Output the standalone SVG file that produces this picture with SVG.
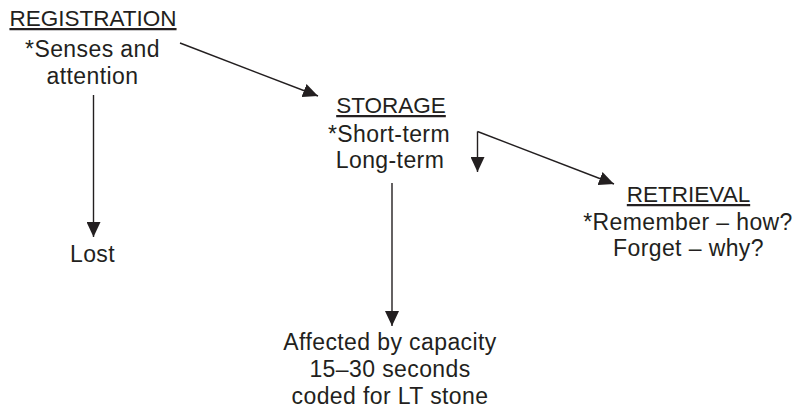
<svg xmlns="http://www.w3.org/2000/svg" width="795" height="412" viewBox="0 0 795 412">
<style>
text{font-family:"Liberation Sans",Arial,Helvetica,sans-serif;font-size:23px;letter-spacing:0.4px;fill:#231f20;text-anchor:middle}
.h{font-size:22.5px;letter-spacing:0;text-decoration:underline}
.c{stroke:#231f20;stroke-width:1.4;fill:none}
</style>
<defs>
<marker id="ah" viewBox="0 0 15 14" markerUnits="userSpaceOnUse" markerWidth="15" markerHeight="14" refX="15" refY="7" orient="auto">
<path d="M0,0 L15,7 L0,14 z" fill="#231f20"/>
</marker>
</defs>
<rect width="795" height="412" fill="#ffffff"/>
<g id="connectors">
<path class="c" d="M180,43 L318,96" marker-end="url(#ah)"/>
<path class="c" d="M93.5,95 L93.5,237" marker-end="url(#ah)"/>
<path class="c" d="M392,183 L392,326" marker-end="url(#ah)"/>
<path class="c" d="M477.5,131.5 L477.5,172" marker-end="url(#ah)"/>
<path class="c" d="M477.5,131.5 L614,184" marker-end="url(#ah)"/>
</g>
<g id="registration">
<text x="93" y="26" class="h">REGISTRATION</text>
<text x="92.5" y="56.5">*Senses and</text>
<text x="92.5" y="84">attention</text>
</g>
<g id="storage">
<text x="391" y="113" class="h">STORAGE</text>
<text x="389" y="142">*Short-term</text>
<text x="390" y="168">Long-term</text>
</g>
<g id="retrieval">
<text x="688.5" y="202" class="h">RETRIEVAL</text>
<text x="688" y="230">*Remember – how?</text>
<text x="688.5" y="256">Forget – why?</text>
</g>
<g id="lost">
<text x="92.5" y="262">Lost</text>
</g>
<g id="affected">
<text x="390" y="350">Affected by capacity</text>
<text x="390" y="377">15–30 seconds</text>
<text x="390" y="404">coded for LT stone</text>
</g>
</svg>
